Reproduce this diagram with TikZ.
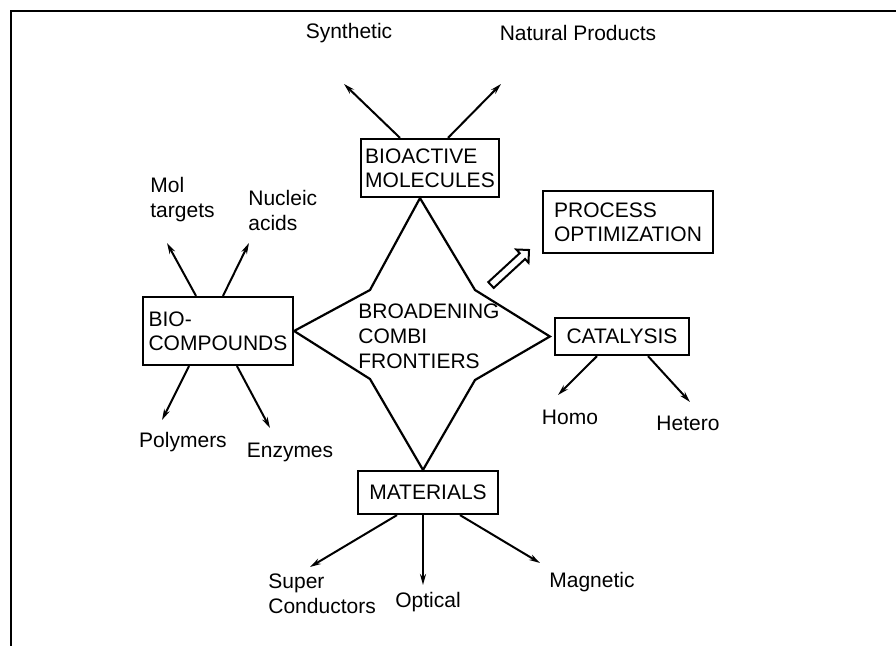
\documentclass[tikz,border=0pt]{standalone}
\usepackage{fontspec}
\setmainfont{Liberation Sans}
\usetikzlibrary{arrows.meta}

\begin{document}
\begin{tikzpicture}[x=0.5pt,y=-0.5pt,
    box/.style={draw, line width=1.1pt, inner sep=2pt, align=left, font=\fontsize{10.5}{12}\selectfont},
    lbl/.style={inner sep=1pt, align=left, font=\fontsize{10.5}{12.5}\selectfont},
    conn/.style={line width=1pt, -{Stealth[length=5.5pt,width=3pt]}}]
    \useasboundingbox (0,0) rectangle (896,646);
    \draw[line width=1pt] (11,646) -- (11,11) -- (896,11);

    \node[box, minimum width=69pt, minimum height=29pt] (bioact) at (430,168) {BIOACTIVE\\MOLECULES};
    \node[box, minimum width=85pt, minimum height=31pt] (process) at (628,222) {PROCESS\\OPTIMIZATION};
    \node[box, minimum width=75pt, minimum height=34pt] (biocomp) at (218,331) {BIO-\\COMPOUNDS};
    \node[box, minimum width=67pt, minimum height=18.5pt] (catal) at (622,336.5) {CATALYSIS};
    \node[box, minimum width=70pt, minimum height=21.5pt] (mater) at (428,492.5) {MATERIALS};
    \node[lbl, anchor=west] (combi) at (356,336) {BROADENING\\COMBI\\FRONTIERS};

    \draw[line width=1.1pt] ([xshift=-5pt]bioact.south) -- (475,290) -- ([xshift=-2pt]catal.west)
        -- (475,380) -- ([xshift=-2.5pt]mater.north) -- (370,379) -- (biocomp.east) -- (370,290) -- cycle;

    \draw[line width=1pt] (493.7,287.9) -- (525.1,259.0) -- (528.5,262.7) -- (529,250)
        -- (516.3,249.5) -- (519.7,253.2) -- (488.3,282.1) -- cycle;

    \node[lbl] (synth) at (349,33) {Synthetic};
    \node[lbl] (natur) at (578,33) {Natural Products};
    \node[lbl, anchor=west] (moltg) at (148,200) {Mol\\targets};
    \node[lbl, anchor=west] (nucl) at (246,210) {Nucleic\\acids};
    \node[lbl] (polym) at (183,442) {Polymers};
    \node[lbl] (enzym) at (290,452) {Enzymes};
    \node[lbl] (homo) at (570,417) {Homo};
    \node[lbl] (hetero) at (688,423) {Hetero};
    \node[lbl, anchor=west] (super) at (266,594) {Super\\Conductors};
    \node[lbl] (optic) at (428,602) {Optical};
    \node[lbl, anchor=west] (magn) at (547,582) {Magnetic};

    \coordinate (synthtip) at (344,84);
    \coordinate (naturtip) at (501,84);
    \coordinate (moltgtip) at (167,243);
    \coordinate (nucltip) at (249,243);
    \coordinate (polymtip) at (162,420);
    \coordinate (enzymtip) at (270,428);
    \coordinate (homotip) at (558,395);
    \coordinate (heterotip) at (690,402);
    \coordinate (supertip) at (310,567);
    \coordinate (optictip) at (423,585);
    \coordinate (magntip) at (540,563);

    \draw[conn] ([xshift=-15pt]bioact.north) -- (synthtip);
    \draw[conn] ([xshift=9pt]bioact.north) -- (naturtip);
    \draw[conn] ([xshift=-11pt]biocomp.north) -- (moltgtip);
    \draw[conn] ([xshift=2.5pt]biocomp.north) -- (nucltip);
    \draw[conn] ([xshift=-14.5pt]biocomp.south) -- (polymtip);
    \draw[conn] ([xshift=9.5pt]biocomp.south) -- (enzymtip);
    \draw[conn] ([xshift=-12.5pt]catal.south) -- (homotip);
    \draw[conn] ([xshift=13pt]catal.south) -- (heterotip);
    \draw[conn] ([xshift=-15.5pt]mater.south) -- (supertip);
    \draw[conn] ([xshift=-2.5pt]mater.south) -- (optictip);
    \draw[conn] ([xshift=16pt]mater.south) -- (magntip);
\end{tikzpicture}
\end{document}
